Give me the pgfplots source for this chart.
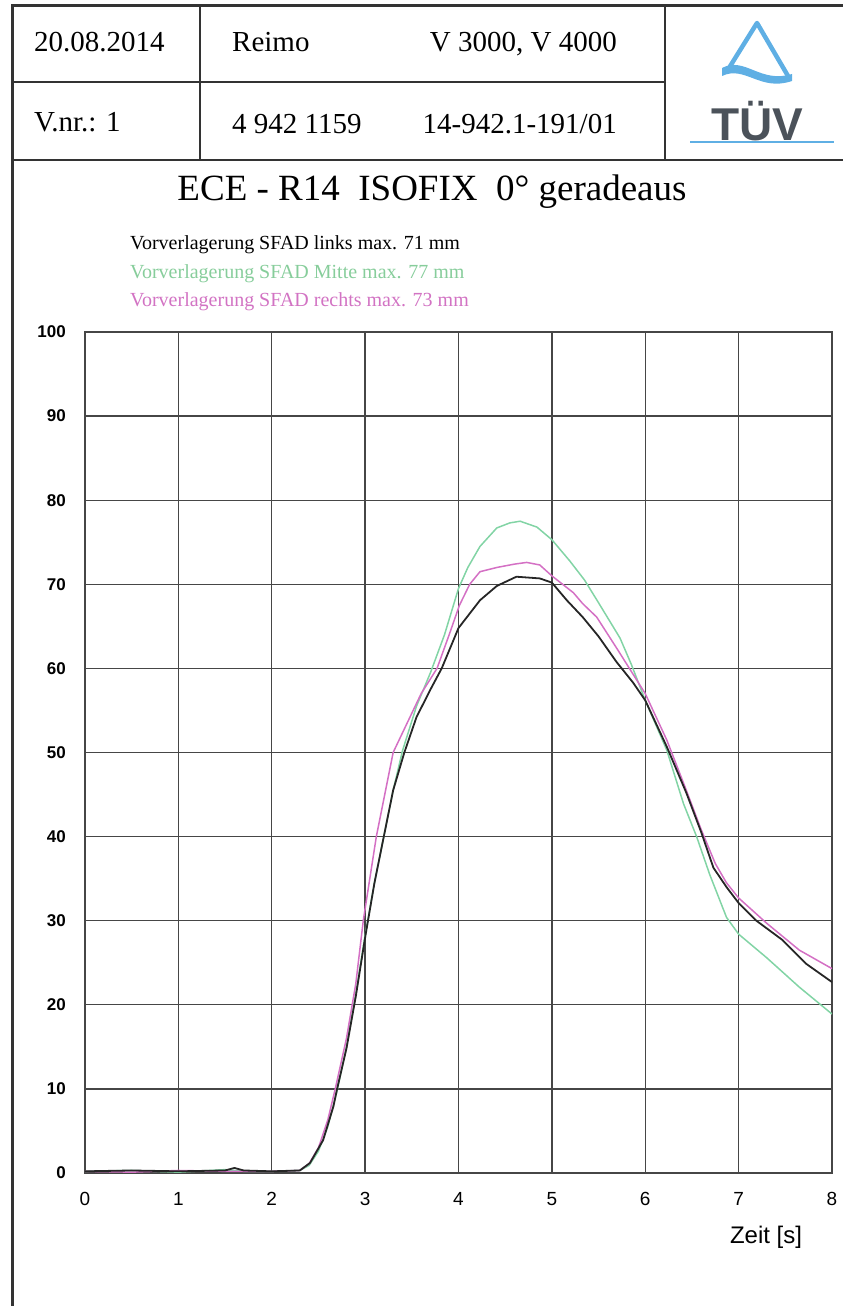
\documentclass[border=0pt]{standalone}
\usepackage{fontspec}
\setmainfont{Liberation Serif}
\newfontfamily\arial{Liberation Sans}
\usepackage{pgfplots}
\pgfplotsset{compat=1.18}
\definecolor{mgreen}{RGB}{130,212,165}
\definecolor{mpink}{RGB}{212,112,196}
\definecolor{tgreen}{RGB}{135,205,155}
\definecolor{tpink}{RGB}{210,115,195}
\definecolor{tuvblue}{RGB}{95,175,228}
\definecolor{tuvgray}{RGB}{75,82,90}
\definecolor{gridc}{RGB}{70,70,70}

\begin{document}
\begin{tikzpicture}
\path[use as bounding box] (0pt,0pt) rectangle (843pt,1306pt);
% frame
\draw[line width=3pt,black!80] (12pt,0pt) -- (12pt,1300pt) -- (843pt,1300pt);
\draw[line width=2pt,black!80] (12pt,1224pt) -- (665pt,1224pt);
\draw[line width=2.5pt,black!80] (12pt,1146pt) -- (843pt,1146pt);
\draw[line width=2pt,black!80] (200pt,1300pt) -- (200pt,1146pt);
\draw[line width=2pt,black!80] (665pt,1300pt) -- (665pt,1146pt);
% header text
\begin{scope}[every node/.style={inner sep=0pt,font=\fontsize{29}{29}\selectfont}]
\node[anchor=base west] at (34pt,1254pt) {20.08.2014};
\node[anchor=base west] at (232pt,1254pt) {Reimo};
\node[anchor=base east] at (617pt,1254pt) {V 3000, V 4000};
\node[anchor=base west] at (34pt,1174pt) {V.nr.: 1};
\node[anchor=base west] at (232pt,1172pt) {4 942 1159};
\node[anchor=base east] at (617pt,1172pt) {14-942.1-191/01};
\end{scope}
% logo
\draw[tuvblue,line width=4.5pt,line join=round] (729pt,1238pt) -- (757pt,1283pt) -- (788pt,1230pt);
\fill[tuvblue] (722pt,1238pt) .. controls (745pt,1250pt) and (760pt,1222pt) .. (792pt,1232pt) -- (792pt,1225pt) .. controls (760pt,1214pt) and (745pt,1241pt) .. (722pt,1230pt) -- cycle;
\node[inner sep=0pt,text=tuvgray,font=\arial\bfseries\fontsize{46}{46}\selectfont] at (757pt,1185pt) {TÜV};
\draw[tuvblue,line width=2pt] (690pt,1164pt) -- (834pt,1164pt);
% title
\node[anchor=base,inner sep=0pt,font=\fontsize{37}{37}\selectfont] at (432pt,1105pt) {ECE - R14\ \ ISOFIX\ \ 0° geradeaus};
% legend lines
\begin{scope}[every node/.style={anchor=base west,inner sep=0pt,font=\fontsize{20}{20}\selectfont}]
\node at (130pt,1056pt) {Vorverlagerung SFAD links max. 71 mm};
\node[text=tgreen] at (130pt,1027pt) {Vorverlagerung SFAD Mitte max. 77 mm};
\node[text=tpink] at (130pt,999pt) {Vorverlagerung SFAD rechts max. 73 mm};
\end{scope}
\begin{axis}[
  at={(85pt,133pt)}, anchor=south west,
  scale only axis, width=747pt, height=841pt,
  xmin=0, xmax=8, ymin=0, ymax=100,
  xtick={0,1,...,8}, ytick={0,10,...,100},
  grid=major,
  grid style={line width=1.3pt, gridc},
  axis line style={line width=1.6pt, gridc},
  major tick length=0pt,
  /pgf/number format/assume math mode=true,
  yticklabel style={font=\arial\bfseries\fontsize{17}{17}\selectfont, inner sep=0pt, xshift=-19pt},
  xticklabel style={font=\arial\fontsize{19}{19}\selectfont, inner sep=0pt, yshift=-19pt},
  clip=true,
]
\addplot[mgreen, line width=1.5pt] table {
0 0.2
0.5 0.3
1.0 0.1
1.5 0.4
1.7 0.2
2.0 0.2
2.3 0.3
2.4 0.9
2.5 2.6
2.6 5.5
2.7 9.8
2.8 15.0
2.9 21.3
3.0 28.3
3.1 34.5
3.2 40.0
3.3 45.5
3.4 50.2
3.55 55.5
3.7 59.5
3.85 64.0
4.0 69.5
4.1 72.0
4.23 74.5
4.41 76.7
4.55 77.3
4.66 77.5
4.84 76.8
5.0 75.3
5.19 72.8
5.35 70.5
5.5 67.8
5.73 63.6
5.85 60.5
6.0 56.2
6.23 50.3
6.41 43.9
6.55 40.0
6.69 35.5
6.87 30.4
7.0 28.4
7.3 25.6
7.65 22.1
8.0 18.9
};
\addplot[mpink, line width=1.5pt] table {
0 0.2
0.5 0.1
1.0 0.3
1.5 0.2
2.0 0.2
2.3 0.3
2.4 1.1
2.5 3.0
2.6 6.3
2.68 10.0
2.8 16.0
2.9 22.5
2.98 30.0
3.12 40.0
3.3 50.0
3.48 54.2
3.6 57.0
3.77 60.0
3.9 64.0
4.01 67.5
4.12 70.0
4.23 71.5
4.41 72.0
4.6 72.4
4.73 72.6
4.87 72.3
5.0 71.0
5.23 69.0
5.33 67.7
5.48 66.1
5.7 62.3
6.0 57.0
6.23 51.5
6.44 45.5
6.6 40.8
6.75 36.8
6.87 34.5
7.0 32.7
7.3 29.7
7.65 26.5
8.0 24.3
};
\addplot[black!85, line width=1.8pt] table {
0 0.2
0.5 0.3
1.0 0.2
1.5 0.3
1.6 0.6
1.7 0.3
2.0 0.2
2.3 0.3
2.41 1.2
2.55 3.9
2.66 7.9
2.7 10.0
2.8 14.8
2.9 21.0
3.0 28.0
3.1 34.5
3.2 40.0
3.3 45.5
3.42 50.0
3.55 54.2
3.7 57.5
3.82 60.0
4.0 64.8
4.23 68.1
4.41 69.8
4.62 70.9
4.87 70.7
5.0 70.2
5.16 68.1
5.33 66.1
5.5 63.8
5.69 60.8
5.87 58.3
6.0 56.2
6.23 50.7
6.44 45.2
6.6 40.5
6.73 36.3
6.87 34.0
7.0 32.1
7.19 30.0
7.47 27.7
7.72 24.9
8.0 22.7
};
\end{axis}
\node[inner sep=0pt,font=\arial\fontsize{24}{24}\selectfont] at (766pt,69pt) {Zeit [s]};
\end{tikzpicture}
\end{document}
